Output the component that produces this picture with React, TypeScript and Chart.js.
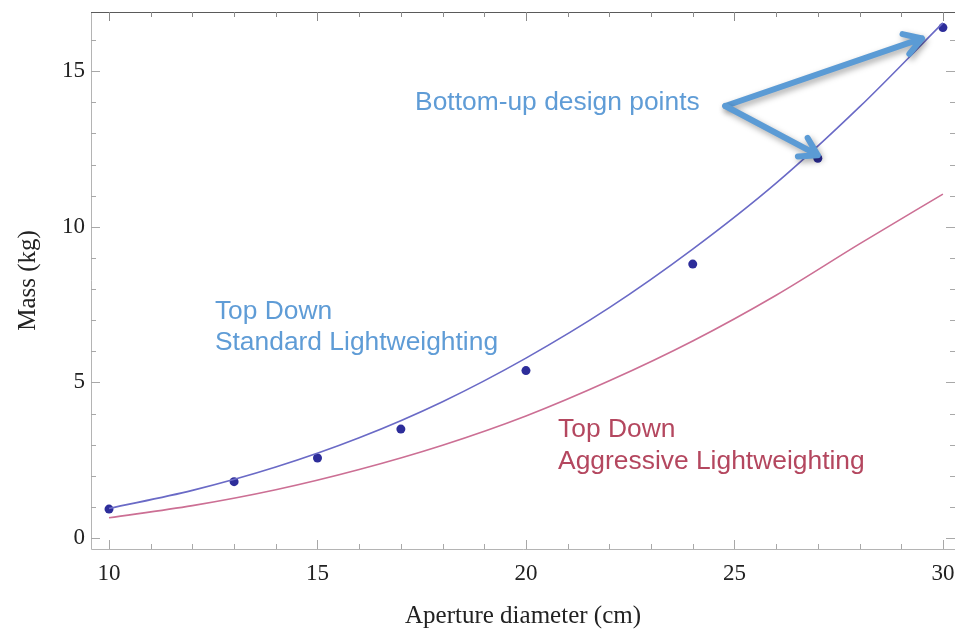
import React, { useEffect, useRef } from "react";
import { Chart, registerables } from "chart.js";

Chart.register(...registerables);

// ---- data ----
const X_TICKS = [10, 15, 20, 25, 30];
const Y_TICKS = [0, 5, 10, 15];
const DESIGN_D = [10, 13, 15, 17, 20, 24, 27, 30];
const DESIGN_MASS = [0.93, 1.81, 2.57, 3.5, 5.38, 8.8, 12.2, 16.4];
const CURVE_D = [10, 12, 14, 16, 18, 20, 22, 24, 26, 28, 30];
const STANDARD_MASS = [0.95, 1.53, 2.28, 3.22, 4.38, 5.78, 7.4, 9.28, 11.4, 13.85, 16.55];
const AGGRESSIVE_MASS = [0.65, 1.04, 1.55, 2.2, 2.98, 3.92, 5.05, 6.33, 7.8, 9.45, 11.05];

const X_TITLE = "Aperture diameter (cm)";
const Y_TITLE = "Mass (kg)";
const NOTE_DESIGN = "Bottom-up design points";
const NOTE_STANDARD = ["Top Down", "Standard Lightweighting"];
const NOTE_AGGRESSIVE = ["Top Down", "Aggressive Lightweighting"];

// annotation anchors in data units
const NOTE_DESIGN_AT = [17.34, 13.97];
const NOTE_STANDARD_AT = [12.54, 7.26, 6.26];
const NOTE_AGGRESSIVE_AT = [20.77, 3.47, 2.44];
const ARROW_FROM = [24.78, 13.88];
const ARROW_TIPS = [
  [29.5, 16.05],
  [27.0, 12.3],
];

const X_MIN = 9.568;
const X_MAX = 30.29;
const Y_MIN = -0.353;
const Y_MAX = 16.9;

const SANS = '"Liberation Sans", Arial, sans-serif';
const SERIF = '"Liberation Serif", "Times New Roman", serif';

const framePlugin = {
  id: "frameTicks",
  beforeDatasetsDraw(chart: any) {
    const { ctx, chartArea: a, scales } = chart;
    const xs = scales.x;
    const ys = scales.y;
    ctx.save();
    ctx.lineWidth = 1;
    // frame
    ctx.strokeStyle = "#b4b4b4";
    ctx.beginPath();
    ctx.moveTo(a.left + 0.5, a.top);
    ctx.lineTo(a.left + 0.5, a.bottom + 0.5);
    ctx.lineTo(a.right, a.bottom + 0.5);
    ctx.stroke();
    ctx.strokeStyle = "#5a5a5a";
    ctx.beginPath();
    ctx.moveTo(a.left, a.top + 0.5);
    ctx.lineTo(a.right, a.top + 0.5);
    ctx.stroke();

    // inward ticks
    for (let v = Math.ceil(X_MIN); v <= X_MAX; v++) {
      const major = X_TICKS.includes(v);
      const len = major ? 9 : 5;
      const px = Math.round(xs.getPixelForValue(v)) + 0.5;
      ctx.strokeStyle = "#a8a8a8";
      ctx.beginPath();
      ctx.moveTo(px, a.bottom);
      ctx.lineTo(px, a.bottom - len);
      ctx.stroke();
      ctx.strokeStyle = "#8a8a8a";
      ctx.beginPath();
      ctx.moveTo(px, a.top);
      ctx.lineTo(px, a.top + len);
      ctx.stroke();
    }
    for (let v = Math.ceil(Y_MIN); v <= Y_MAX; v++) {
      const major = Y_TICKS.includes(v);
      const len = major ? 9 : 5;
      const py = Math.round(ys.getPixelForValue(v)) + 0.5;
      ctx.strokeStyle = "#a8a8a8";
      ctx.beginPath();
      ctx.moveTo(a.left, py);
      ctx.lineTo(a.left + len, py);
      ctx.stroke();
      ctx.beginPath();
      ctx.moveTo(a.right, py);
      ctx.lineTo(a.right - len, py);
      ctx.stroke();
    }
    ctx.restore();
  },
  afterDatasetsDraw(chart: any) {
    const { ctx, scales } = chart;
    const xs = scales.x;
    const ys = scales.y;
    const X = (v: number) => xs.getPixelForValue(v);
    const Y = (v: number) => ys.getPixelForValue(v);
    ctx.save();
    ctx.font = `26.4px ${SANS}`;
    ctx.textBaseline = "middle";
    ctx.textAlign = "left";
    ctx.fillStyle = "#5f9cd6";
    ctx.fillText(NOTE_DESIGN, X(NOTE_DESIGN_AT[0]), Y(NOTE_DESIGN_AT[1]));
    ctx.fillText(NOTE_STANDARD[0], X(NOTE_STANDARD_AT[0]), Y(NOTE_STANDARD_AT[1]));
    ctx.fillText(NOTE_STANDARD[1], X(NOTE_STANDARD_AT[0]), Y(NOTE_STANDARD_AT[2]));
    ctx.fillStyle = "#b4475f";
    ctx.fillText(NOTE_AGGRESSIVE[0], X(NOTE_AGGRESSIVE_AT[0]), Y(NOTE_AGGRESSIVE_AT[1]));
    ctx.fillText(NOTE_AGGRESSIVE[1], X(NOTE_AGGRESSIVE_AT[0]), Y(NOTE_AGGRESSIVE_AT[2]));

    // arrows
    const x0 = X(ARROW_FROM[0]);
    const y0 = Y(ARROW_FROM[1]);
    ctx.lineWidth = 6;
    ctx.lineCap = "round";
    ctx.lineJoin = "round";
    ctx.strokeStyle = "#5b9bd5";
    ctx.shadowColor = "rgba(0,0,0,0.35)";
    ctx.shadowBlur = 6;
    ctx.shadowOffsetX = 2;
    ctx.shadowOffsetY = 3;
    for (const tip of ARROW_TIPS) {
      const x1 = X(tip[0]);
      const y1 = Y(tip[1]);
      const ang = Math.atan2(y1 - y0, x1 - x0);
      const bl = 20;
      const spread = 0.55;
      ctx.beginPath();
      ctx.moveTo(x0, y0);
      ctx.lineTo(x1, y1);
      ctx.moveTo(x1 - bl * Math.cos(ang - spread), y1 - bl * Math.sin(ang - spread));
      ctx.lineTo(x1, y1);
      ctx.lineTo(x1 - bl * Math.cos(ang + spread), y1 - bl * Math.sin(ang + spread));
      ctx.stroke();
    }
    ctx.restore();
  },
};

const zeroPadding = (s: any) => {
  s.paddingTop = 0;
  s.paddingBottom = 0;
  s.paddingLeft = 0;
  s.paddingRight = 0;
};

export default function App() {
  const canvasRef = useRef<HTMLCanvasElement | null>(null);

  useEffect(() => {
    document.body.style.margin = "0";
    const canvas = canvasRef.current;
    if (!canvas) return;
    const chart = new Chart(canvas, {
      type: "scatter",
      data: {
        datasets: [
          {
            type: "line",
            label: "Top Down Standard Lightweighting",
            data: CURVE_D.map((d, i) => ({ x: d, y: STANDARD_MASS[i] })),
            borderColor: "#6a6ac6",
            borderWidth: 1.6,
            pointRadius: 0,
            fill: false,
            cubicInterpolationMode: "monotone",
          },
          {
            type: "line",
            label: "Top Down Aggressive Lightweighting",
            data: CURVE_D.map((d, i) => ({ x: d, y: AGGRESSIVE_MASS[i] })),
            borderColor: "#cc6f94",
            borderWidth: 1.6,
            pointRadius: 0,
            fill: false,
            cubicInterpolationMode: "monotone",
          },
          {
            type: "scatter",
            label: "Bottom-up design points",
            data: DESIGN_D.map((d, i) => ({ x: d, y: DESIGN_MASS[i] })),
            backgroundColor: "#2d2d9a",
            borderWidth: 0,
            pointRadius: 4.5,
          },
        ],
      },
      options: {
        animation: false,
        responsive: false,
        maintainAspectRatio: false,
        layout: { autoPadding: false, padding: { top: 12, right: 0, bottom: 0, left: 0 } },
        plugins: { legend: { display: false }, tooltip: { enabled: false } },
        scales: {
          x: {
            type: "linear",
            min: X_MIN,
            max: X_MAX,
            grid: { display: false, drawTicks: false },
            border: { display: false },
            afterBuildTicks: (s: any) => {
              s.ticks = X_TICKS.map((v) => ({ value: v }));
            },
            afterFit: (s: any) => {
              s.height = 81;
              zeroPadding(s);
            },
            ticks: {
              font: { family: SERIF, size: 23 },
              color: "#222",
              padding: 11,
              maxRotation: 0,
            },
            title: {
              display: true,
              text: X_TITLE,
              font: { family: SERIF, size: 25, lineHeight: 1 },
              color: "#222",
              padding: { top: 0, bottom: 1.5 },
            },
          },
          y: {
            type: "linear",
            min: Y_MIN,
            max: Y_MAX,
            grid: { display: false, drawTicks: false },
            border: { display: false },
            afterBuildTicks: (s: any) => {
              s.ticks = Y_TICKS.map((v) => ({ value: v }));
            },
            afterFit: (s: any) => {
              s.width = 91;
              zeroPadding(s);
            },
            ticks: {
              font: { family: SERIF, size: 23 },
              color: "#222",
              padding: 6,
            },
            title: {
              display: true,
              text: Y_TITLE,
              font: { family: SERIF, size: 25, lineHeight: 1 },
              color: "#222",
              padding: { top: 15.5, bottom: 0 },
            },
          },
        },
      },
      plugins: [framePlugin],
    });
    return () => chart.destroy();
  }, []);

  return (
    <div style={{ width: 955, height: 630, background: "#fff" }}>
      <canvas ref={canvasRef} width={955} height={630} style={{ display: "block" }} />
    </div>
  );
}
